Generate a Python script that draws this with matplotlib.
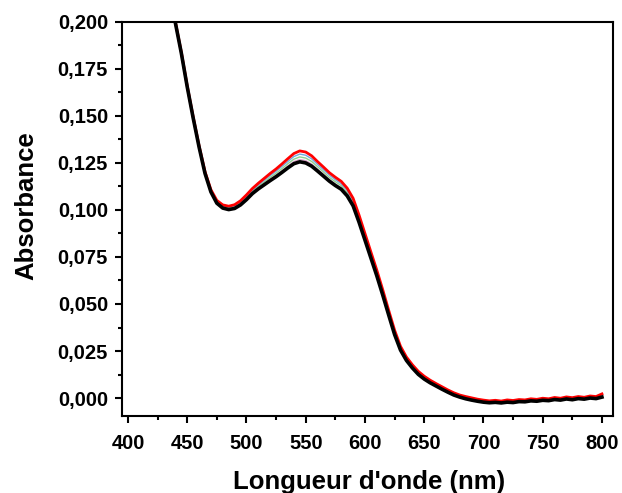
import matplotlib
matplotlib.use("Agg")
import matplotlib.pyplot as plt
from matplotlib.ticker import MultipleLocator, FuncFormatter

plt.rcParams['font.family'] = ['Liberation Sans', 'DejaVu Sans']
plt.rcParams['font.weight'] = 'bold'

# wavelength grid (nm)
wl = [400, 410, 420, 430, 435,
      440, 445, 450, 455, 460, 465, 470, 475, 480, 485, 490, 495,
      500, 505, 510, 515, 520, 525, 530, 535, 540, 545, 550, 555,
      560, 565, 570, 575, 580, 585, 590, 595, 600, 605, 610, 615,
      620, 625, 630, 635, 640, 645, 650, 655, 660, 665, 670, 675,
      680, 685, 690, 695, 700, 705, 710, 715, 720, 725, 730, 735, 740,
      745, 750, 755, 760, 765, 770, 775, 780, 785, 790, 795, 800]

abs_black = [0.450, 0.370, 0.300, 0.242, 0.219,
             0.1995, 0.1835, 0.1655, 0.1490, 0.1335, 0.1195, 0.1096, 0.1036, 0.1010, 0.1002, 0.1008, 0.1027,
             0.1055, 0.1087, 0.1112, 0.1134, 0.1156, 0.1177, 0.1200, 0.1224, 0.1246, 0.1256, 0.1250, 0.1233,
             0.1207, 0.1180, 0.1153, 0.1130, 0.1110, 0.1075, 0.1022, 0.0935, 0.0840, 0.0745, 0.0650, 0.0548,
             0.0442, 0.0338, 0.0255, 0.0200, 0.0160, 0.0126, 0.0101, 0.0081, 0.0064, 0.0047, 0.0031, 0.0016,
             0.0005, -0.0004, -0.0011, -0.0017, -0.0022, -0.0025, -0.0023, -0.0026, -0.0022, -0.0024, -0.0019, -0.0020, -0.0015,
             -0.0017, -0.0012, -0.0014, -0.0008, -0.0011, -0.0005, -0.0009, -0.0003, -0.0006, 0.0000, -0.0003, 0.0005]

abs_pink = [0.450, 0.370, 0.300, 0.242, 0.219,
            0.1996, 0.1836, 0.1656, 0.1491, 0.1336, 0.1197, 0.1098, 0.1039, 0.1013, 0.1006, 0.1012, 0.1031,
            0.1060, 0.1092, 0.1118, 0.1141, 0.1164, 0.1185, 0.1209, 0.1234, 0.1257, 0.1268, 0.1262, 0.1244,
            0.1217, 0.1190, 0.1162, 0.1139, 0.1118, 0.1083, 0.1030, 0.0943, 0.0847, 0.0751, 0.0656, 0.0554,
            0.0447, 0.0343, 0.0259, 0.0204, 0.0163, 0.0129, 0.0104, 0.0084, 0.0067, 0.0050, 0.0033, 0.0018,
            0.0007, -0.0002, -0.0009, -0.0015, -0.0020, -0.0023, -0.0021, -0.0024, -0.0019, -0.0022, -0.0017, -0.0018, -0.0013,
            -0.0015, -0.0010, -0.0012, -0.0006, -0.0009, -0.0003, -0.0007, -0.0001, -0.0004, 0.0002, -0.0001, 0.0008]

abs_green = [0.450, 0.370, 0.300, 0.242, 0.219,
             0.1997, 0.1837, 0.1657, 0.1493, 0.1338, 0.1199, 0.1101, 0.1043, 0.1018, 0.1010, 0.1017, 0.1037,
             0.1066, 0.1099, 0.1126, 0.1149, 0.1173, 0.1195, 0.1220, 0.1246, 0.1270, 0.1282, 0.1276, 0.1258,
             0.1230, 0.1202, 0.1173, 0.1150, 0.1129, 0.1093, 0.1040, 0.0952, 0.0856, 0.0759, 0.0664, 0.0561,
             0.0453, 0.0348, 0.0264, 0.0208, 0.0168, 0.0133, 0.0108, 0.0087, 0.0070, 0.0053, 0.0036, 0.0021,
             0.0010, 0.0001, -0.0006, -0.0012, -0.0017, -0.0021, -0.0018, -0.0021, -0.0017, -0.0020, -0.0014, -0.0016, -0.0010,
             -0.0013, -0.0007, -0.0010, -0.0003, -0.0006, 0.0000, -0.0004, 0.0002, -0.0001, 0.0005, 0.0001, 0.0011]

abs_blue = [0.450, 0.370, 0.300, 0.242, 0.219,
            0.1999, 0.1839, 0.1659, 0.1494, 0.1340, 0.1201, 0.1104, 0.1047, 0.1022, 0.1015, 0.1022, 0.1042,
            0.1073, 0.1106, 0.1133, 0.1158, 0.1183, 0.1206, 0.1232, 0.1258, 0.1284, 0.1297, 0.1291, 0.1272,
            0.1242, 0.1214, 0.1185, 0.1161, 0.1139, 0.1104, 0.1050, 0.0962, 0.0865, 0.0767, 0.0671, 0.0568,
            0.0460, 0.0354, 0.0269, 0.0213, 0.0172, 0.0137, 0.0112, 0.0091, 0.0073, 0.0056, 0.0039, 0.0024,
            0.0013, 0.0004, -0.0003, -0.0009, -0.0014, -0.0018, -0.0015, -0.0017, -0.0014, -0.0016, -0.0012, -0.0011, -0.0008,
            -0.0009, -0.0004, -0.0006, -0.0001, -0.0002, 0.0003, -0.0001, 0.0005, 0.0002, 0.0008, 0.0004, 0.0014]

abs_red = [0.450, 0.370, 0.300, 0.242, 0.219,
           0.2000, 0.1840, 0.1660, 0.1496, 0.1342, 0.1204, 0.1108, 0.1051, 0.1027, 0.1020, 0.1028, 0.1049,
           0.1080, 0.1114, 0.1142, 0.1168, 0.1194, 0.1218, 0.1245, 0.1273, 0.1300, 0.1314, 0.1308, 0.1288,
           0.1257, 0.1228, 0.1198, 0.1174, 0.1152, 0.1116, 0.1062, 0.0973, 0.0875, 0.0777, 0.0680, 0.0576,
           0.0467, 0.0361, 0.0275, 0.0218, 0.0177, 0.0142, 0.0116, 0.0095, 0.0077, 0.0060, 0.0043, 0.0028,
           0.0016, 0.0008, 0.0001, -0.0006, -0.0011, -0.0015, -0.0012, -0.0016, -0.0010, -0.0013, -0.0008, -0.0010, -0.0004,
           -0.0007, -0.0001, -0.0004, 0.0003, -0.0001, 0.0006, 0.0002, 0.0008, 0.0004, 0.0011, 0.0008, 0.0022]

fig = plt.figure(figsize=(6.22, 4.93), dpi=100)
ax = fig.add_axes([0.196, 0.156, 0.7895, 0.7996])

ax.plot(wl, abs_pink, color='#d9a0c8', lw=1.0)
ax.plot(wl, abs_green, color='#8fcf8f', lw=1.0)
ax.plot(wl, abs_blue, color='#6fa8dc', lw=1.0)
ax.plot(wl, abs_red, color='#ff0000', lw=2.0)
ax.plot(wl, abs_black, color='#000000', lw=2.6)

ax.set_xlim(394.9, 809.3)
ax.set_ylim(-0.0096, 0.200)

ax.xaxis.set_major_locator(MultipleLocator(50))
ax.xaxis.set_minor_locator(MultipleLocator(25))
ax.yaxis.set_major_locator(MultipleLocator(0.025))
ax.yaxis.set_minor_locator(MultipleLocator(0.0125))
ax.xaxis.set_major_formatter(FuncFormatter(lambda v, p: f"{v:.0f}"))
ax.yaxis.set_major_formatter(FuncFormatter(lambda v, p: f"{v:.3f}".replace('.', ',')))

for s in ax.spines.values():
    s.set_linewidth(1.5)
ax.tick_params(which='major', direction='out', length=5, width=1.5, labelsize=14.5)
ax.tick_params(which='minor', direction='out', length=3, width=1.5)
ax.tick_params(axis='x', which='major', pad=8)
ax.tick_params(axis='y', which='major', pad=5)

ax.set_xlabel("Longueur d'onde (nm)", fontsize=18.5, fontweight='bold')
ax.set_ylabel("Absorbance", fontsize=18.5, fontweight='bold')
ax.xaxis.set_label_coords(0.503, -0.137)
ax.yaxis.set_label_coords(-0.171, 0.535)

fig.savefig("out.png", dpi=100)
